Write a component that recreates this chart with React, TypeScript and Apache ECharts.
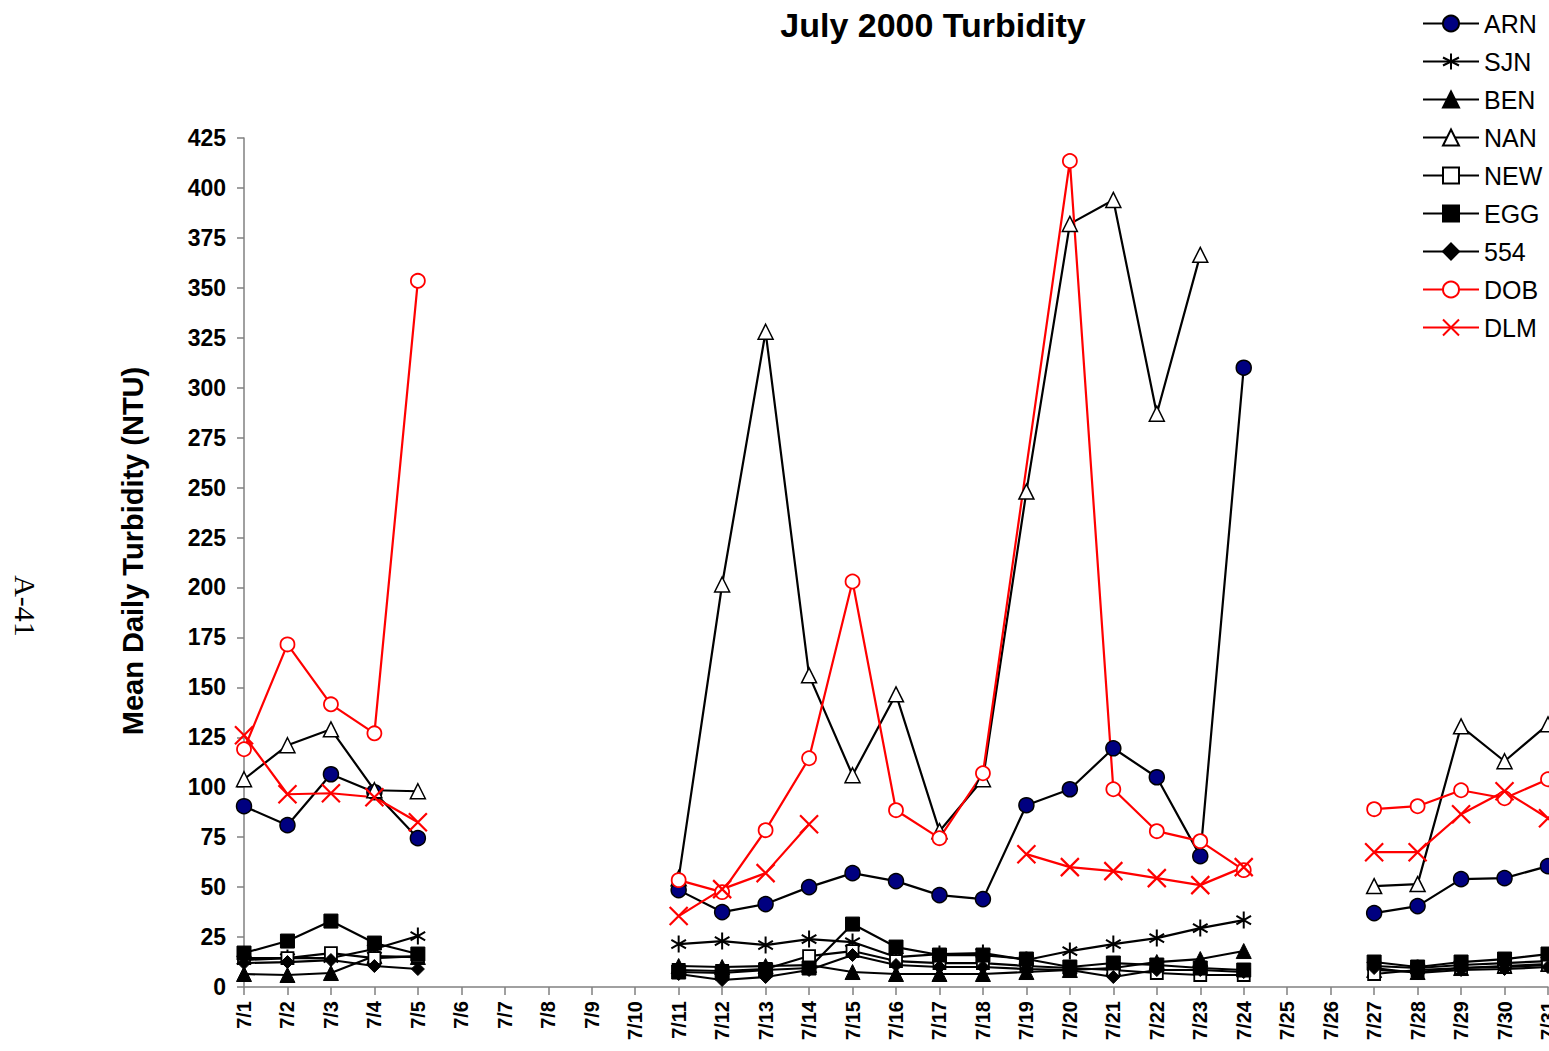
import React, { useEffect, useRef } from "react";
import * as echarts from "echarts";

const days: string[] = Array.from({ length: 31 }, (_, i) => `7/${i + 1}`);
const yTicks = { min: 0, max: 425, interval: 25 };

const n = null;
// 'NA' = missing but connected by the line; null = gap in the line
const ARN = [90.5, 81, 106.5, 97.5, 74.5, n, n, n, n, n, 48.5, 37.5, 41.5, 50, 57, 53, 46, 44, 91, 99, 119.5, 105, 65.5, 310, n, n, 37, 40.5, 54, 54.5, 60.5];
const SJN = [13.5, 14.5, 14.5, 19, 25.5, n, n, n, n, n, 21.5, 23, 21, 24, 22.5, 15, 16.5, 17, 13.5, 18, 21.5, 24.5, 29.5, 33.5, n, n, 10.5, 9.5, 11, 12, 13];
const BEN = [6.5, 6, 7, 15.5, 15, n, n, n, n, n, 10.5, 10, 10.5, 11, 7.5, 6.5, 6.5, 6.5, 7.5, 8.5, 9.5, 12.5, 14, 18, n, n, 8.5, 7.5, 9.5, 10.5, 11.5];
const NAN = [104, 121, 129, 98.5, 98, n, n, n, n, n, 54.5, 201.5, 328, 156, 106, 146.5, 78, 104, 248, 382, 394, 287, 366.5, n, n, n, 50.5, 51.5, 130.5, 113, 131.5];
const NEW = [14.5, 14.5, 17, 14.5, 15.5, n, n, n, n, n, 8.5, 8, 9, 15.5, 18, 13, 12, 12, 10.5, 9.5, 8.5, 7, 6, 6, n, n, 6.5, 8.5, 9.5, 10, 11];
const EGG = [17, 23, 33, 22, 16.5, n, n, n, n, n, 7.5, 7, 8.5, 9.5, 31.5, 20, 16, 16, 14, 10, 12, 11, 9.5, 8.5, n, n, 12.5, 10, 12.5, 14, 16.5];
const S554 = [12, 12.5, 13.5, 10.5, 9, n, n, n, n, n, 6.5, 3.5, 5, 8.5, 16, 11, 10, 10, 9, 8.5, 5, 8.5, 8.5, 7.5, n, n, 9.5, 7, 8.5, 9, 10];
const DOB: any[] = [119, 171.5, 141.5, 127, 353.5, n, n, n, n, n, 53.5, 47.5, 78.5, 114.5, 203, 88.5, 74.5, 107, "NA", 413.5, 99, 78, 73, 58.5, n, n, 89, 90.5, 98.5, 94.5, 104];
const DLM = [126, 96.5, 97, 95, 82.5, n, n, n, n, n, 35.5, 49, 57, 81.5, n, n, n, n, 66.5, 60, 58, 54.5, 51, 60, n, n, 67.5, 67.5, 86.5, 98, 84.5];

const ASTERISK = "path://M5,0L5,10M0.7,2.5L9.3,7.5M0.7,7.5L9.3,2.5";
const XMARK = "path://M0,0L10,10M0,10L10,0";

function toPairs(arr: any[]) {
  const out: any[] = [];
  arr.forEach((v, i) => {
    if (v === "NA") return;
    out.push([i, v === null ? "-" : v]);
  });
  return out;
}

const FONT = "'Liberation Sans', Arial, sans-serif";

export default function App() {
  const ref = useRef<HTMLDivElement>(null);
  useEffect(() => {
    if (!ref.current) return;
    const chart = echarts.init(ref.current, null, { renderer: "svg" });
    const mk = (
      name: string,
      data: any[],
      lineColor: string,
      symbol: string,
      size: number,
      fill: string,
      border: string,
      bw: number
    ) => ({
      name,
      type: "line",
      data: toPairs(data),
      symbol,
      symbolSize: size,
      symbolKeepAspect: true,
      showAllSymbol: true,
      lineStyle: { color: lineColor, width: 2.2 },
      itemStyle: { color: fill, borderColor: border, borderWidth: bw },
      emphasis: { disabled: true },
    });
    const series = [
      mk("ARN", ARN, "#000", "circle", 15, "#000080", "#000", 1.5),
      mk("SJN", SJN, "#000", ASTERISK, 17, "none", "#000", 2),
      mk("BEN", BEN, "#000", "triangle", 15, "#000", "#000", 1),
      mk("NAN", NAN, "#000", "triangle", 15, "#fff", "#000", 1.5),
      mk("NEW", NEW, "#000", "rect", 12, "#fff", "#000", 1.8),
      mk("EGG", EGG, "#000", "rect", 14, "#000", "#000", 1),
      mk("554", S554, "#000", "diamond", 13, "#000", "#000", 1),
      mk("DOB", DOB, "#ff0000", "circle", 14, "#fff", "#ff0000", 1.8),
      mk("DLM", DLM, "#ff0000", XMARK, 18, "none", "#ff0000", 2.2),
    ];
    chart.setOption({
      animation: false,
      backgroundColor: "#fff",
      grid: {
        left: 244,
        right: 1,
        top: 138,
        bottom: 64,
        containLabel: false,
        outerBoundsMode: "none",
      },
      legend: {
        orient: "vertical",
        left: 1417,
        top: 6,
        itemWidth: 56,
        itemHeight: 20,
        itemGap: 13,
        textStyle: { fontSize: 25, color: "#000", fontFamily: FONT },
        data: series.map((s) => s.name),
      },
      xAxis: {
        type: "category",
        data: days,
        boundaryGap: false,
        axisLine: { lineStyle: { color: "#808080", width: 1.5 } },
        axisTick: { show: true, length: 8, lineStyle: { color: "#808080", width: 1.5 } },
        axisLabel: {
          rotate: 90,
          interval: 0,
          margin: 14,
          fontSize: 20,
          fontWeight: "bold",
          color: "#000",
          fontFamily: FONT,
        },
        splitLine: { show: false },
      },
      yAxis: {
        type: "value",
        min: yTicks.min,
        max: yTicks.max,
        interval: yTicks.interval,
        axisLine: { show: true, lineStyle: { color: "#808080", width: 1.5 } },
        axisTick: { show: true, length: 7, lineStyle: { color: "#808080", width: 1.5 } },
        axisLabel: {
          margin: 18,
          fontSize: 23,
          fontWeight: "bold",
          color: "#000",
          fontFamily: FONT,
        },
        splitLine: { show: false },
      },
      graphic: [
        {
          type: "text",
          x: 933,
          y: 25,
          style: {
            text: "July 2000 Turbidity",
            font: `bold 34px ${FONT}`,
            fill: "#000",
            align: "center",
            verticalAlign: "middle",
          },
        },
        {
          type: "text",
          x: 133,
          y: 551,
          rotation: Math.PI / 2,
          style: {
            text: "Mean Daily Turbidity (NTU)",
            font: `bold 29px ${FONT}`,
            fill: "#000",
            align: "center",
            verticalAlign: "middle",
          },
        },
        {
          type: "text",
          x: 25,
          y: 606,
          rotation: -Math.PI / 2,
          style: {
            text: "A-41",
            font: "30px 'Liberation Serif', 'Times New Roman', serif",
            fill: "#000",
            align: "center",
            verticalAlign: "middle",
          },
        },
      ],
      series,
    });
    return () => chart.dispose();
  }, []);
  return (
    <div
      ref={ref}
      style={{ position: "absolute", left: 0, top: 0, width: 1549, height: 1051 }}
    />
  );
}
